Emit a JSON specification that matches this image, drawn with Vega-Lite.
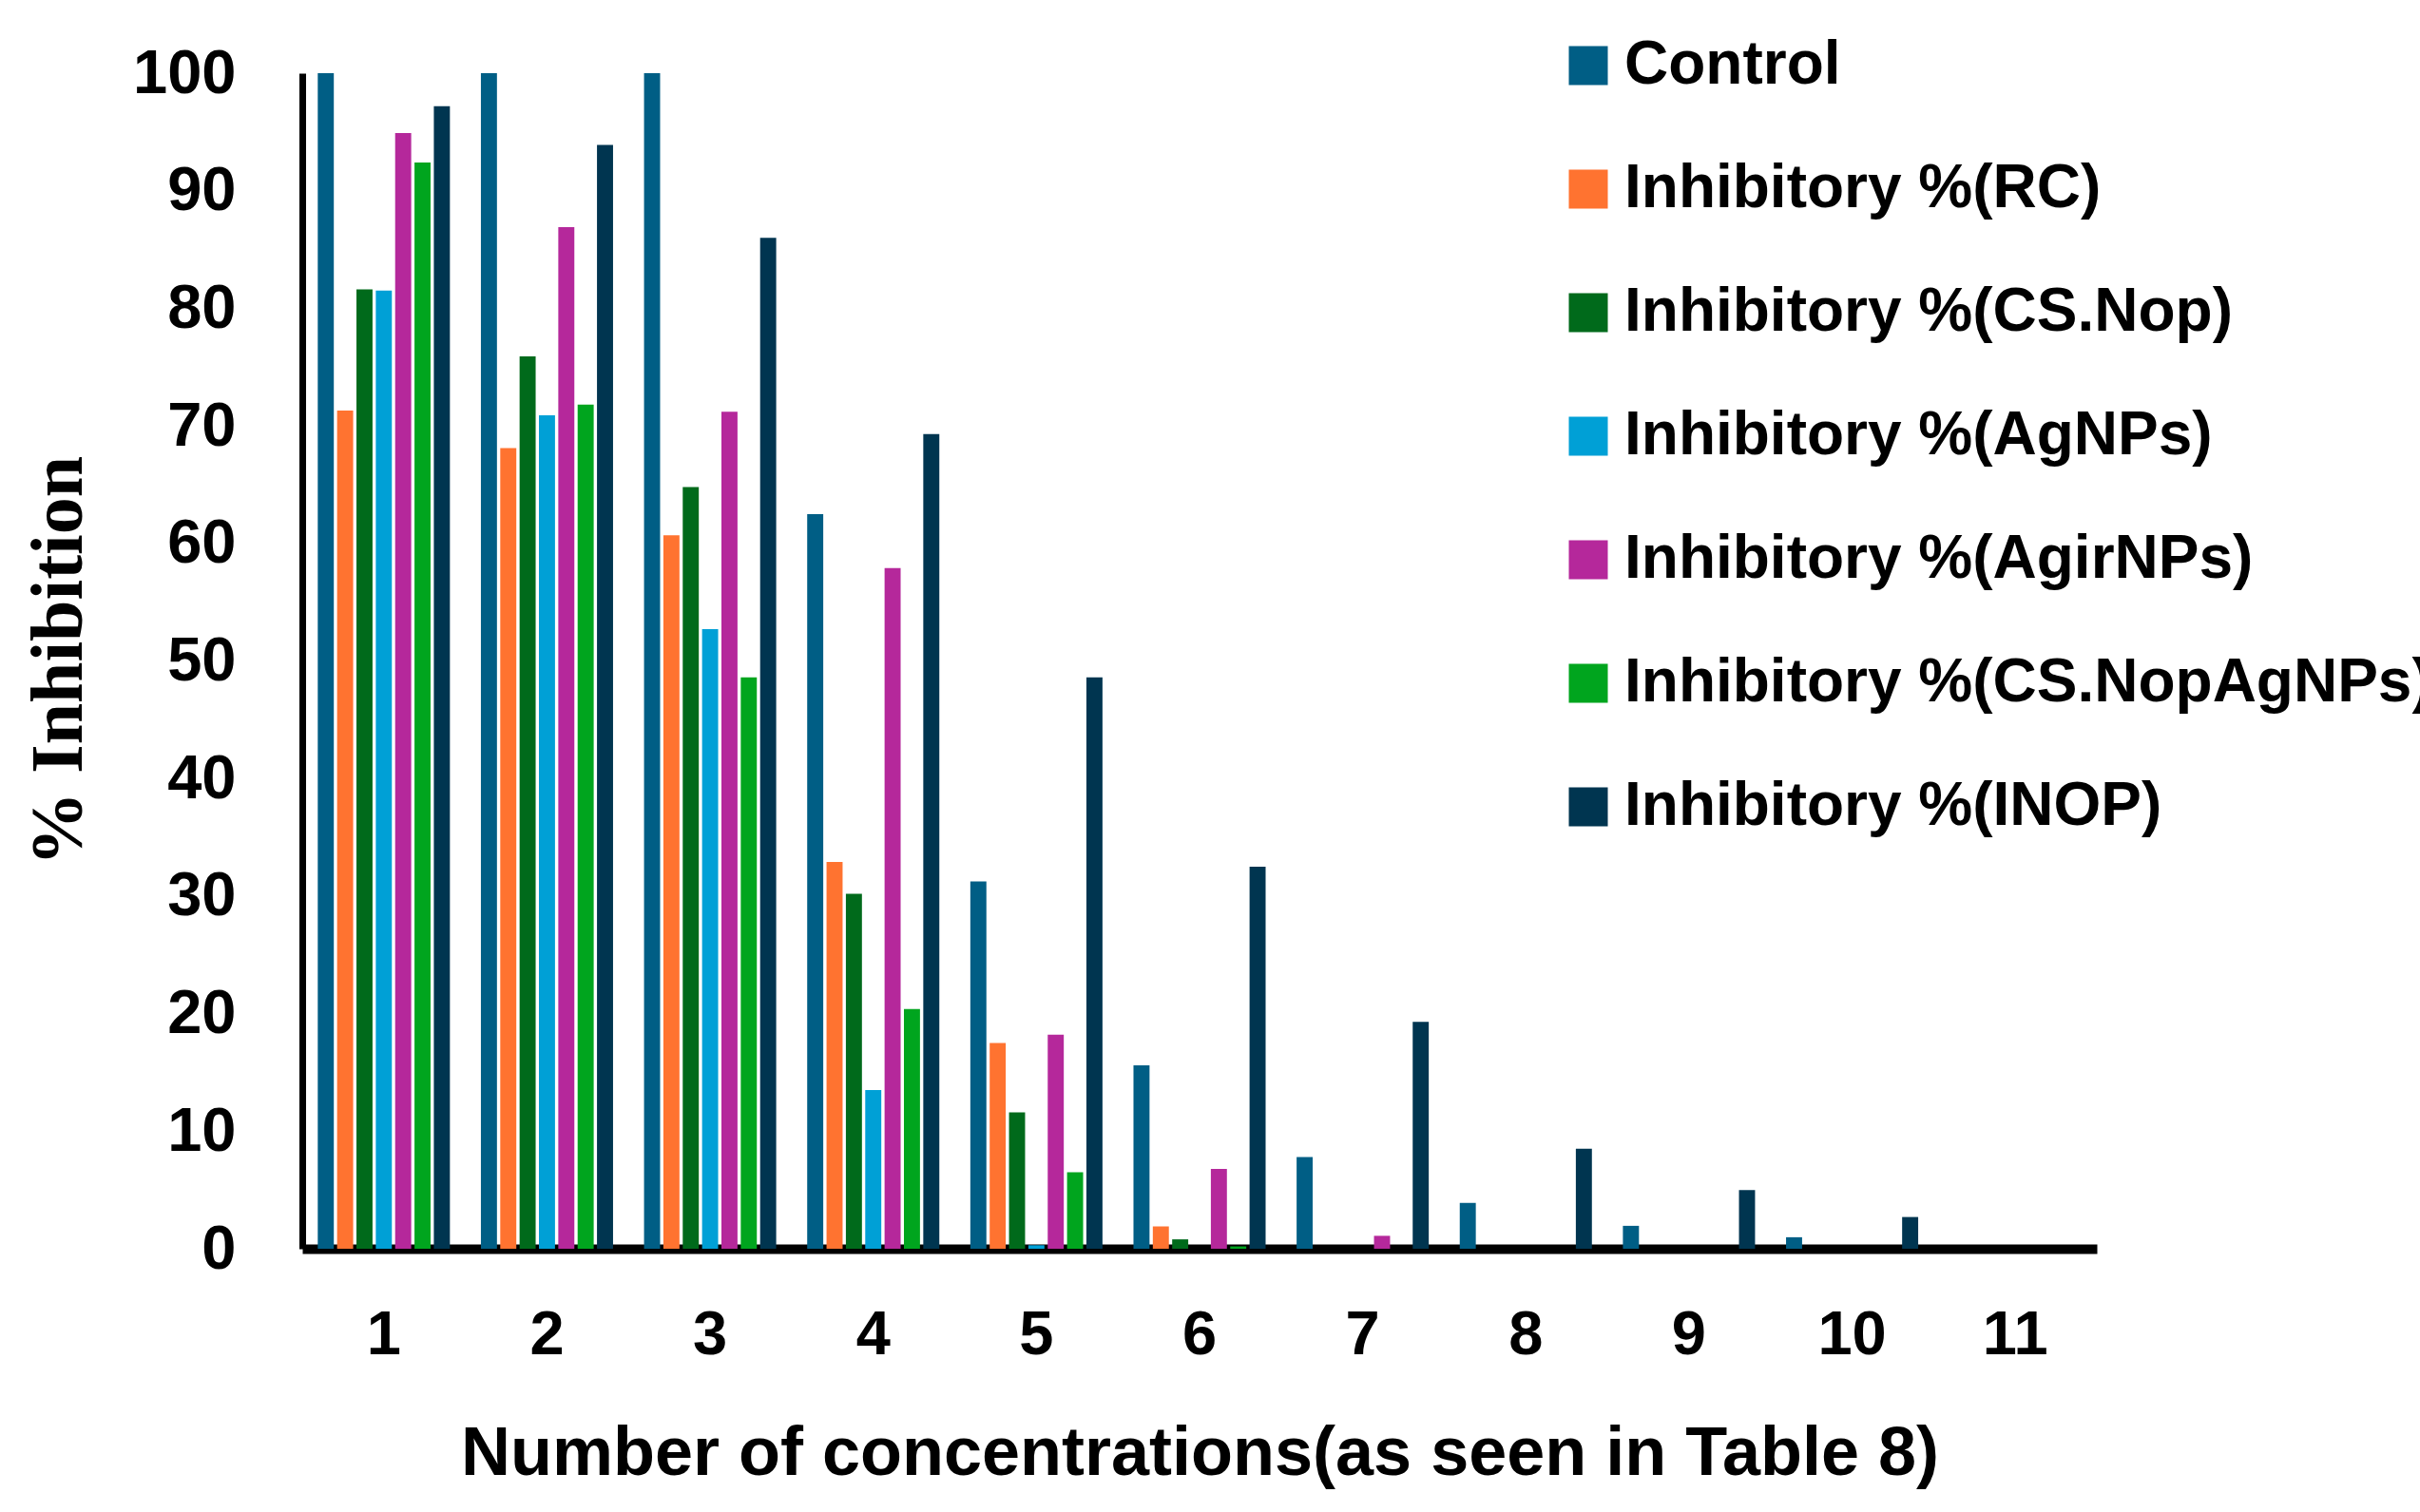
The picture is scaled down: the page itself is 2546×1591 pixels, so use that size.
{
  "$schema": "https://vega.github.io/schema/vega-lite/v6.json",
  "width": 1888,
  "height": 1237,
  "autosize": {"type": "none"},
  "padding": {"left": 318, "top": 77, "right": 340, "bottom": 277},
  "background": "white",
  "data": {"values": [
    {"conc": 1, "series": "Control", "value": 100},
    {"conc": 1, "series": "Inhibitory %(RC)", "value": 71.3},
    {"conc": 1, "series": "Inhibitory %(CS.Nop)", "value": 81.6},
    {"conc": 1, "series": "Inhibitory %(AgNPs)", "value": 81.5},
    {"conc": 1, "series": "Inhibitory %(AgirNPs)", "value": 94.9},
    {"conc": 1, "series": "Inhibitory %(CS.NopAgNPs)", "value": 92.4},
    {"conc": 1, "series": "Inhibitory %(INOP)", "value": 97.2},
    {"conc": 2, "series": "Control", "value": 100},
    {"conc": 2, "series": "Inhibitory %(RC)", "value": 68.1},
    {"conc": 2, "series": "Inhibitory %(CS.Nop)", "value": 75.9},
    {"conc": 2, "series": "Inhibitory %(AgNPs)", "value": 70.9},
    {"conc": 2, "series": "Inhibitory %(AgirNPs)", "value": 86.9},
    {"conc": 2, "series": "Inhibitory %(CS.NopAgNPs)", "value": 71.8},
    {"conc": 2, "series": "Inhibitory %(INOP)", "value": 93.9},
    {"conc": 3, "series": "Control", "value": 100},
    {"conc": 3, "series": "Inhibitory %(RC)", "value": 60.7},
    {"conc": 3, "series": "Inhibitory %(CS.Nop)", "value": 64.8},
    {"conc": 3, "series": "Inhibitory %(AgNPs)", "value": 52.7},
    {"conc": 3, "series": "Inhibitory %(AgirNPs)", "value": 71.2},
    {"conc": 3, "series": "Inhibitory %(CS.NopAgNPs)", "value": 48.6},
    {"conc": 3, "series": "Inhibitory %(INOP)", "value": 86.0},
    {"conc": 4, "series": "Control", "value": 62.5},
    {"conc": 4, "series": "Inhibitory %(RC)", "value": 32.9},
    {"conc": 4, "series": "Inhibitory %(CS.Nop)", "value": 30.2},
    {"conc": 4, "series": "Inhibitory %(AgNPs)", "value": 13.5},
    {"conc": 4, "series": "Inhibitory %(AgirNPs)", "value": 57.9},
    {"conc": 4, "series": "Inhibitory %(CS.NopAgNPs)", "value": 20.4},
    {"conc": 4, "series": "Inhibitory %(INOP)", "value": 69.3},
    {"conc": 5, "series": "Control", "value": 31.25},
    {"conc": 5, "series": "Inhibitory %(RC)", "value": 17.5},
    {"conc": 5, "series": "Inhibitory %(CS.Nop)", "value": 11.6},
    {"conc": 5, "series": "Inhibitory %(AgNPs)", "value": 0.3},
    {"conc": 5, "series": "Inhibitory %(AgirNPs)", "value": 18.2},
    {"conc": 5, "series": "Inhibitory %(CS.NopAgNPs)", "value": 6.5},
    {"conc": 5, "series": "Inhibitory %(INOP)", "value": 48.6},
    {"conc": 6, "series": "Control", "value": 15.6},
    {"conc": 6, "series": "Inhibitory %(RC)", "value": 1.9},
    {"conc": 6, "series": "Inhibitory %(CS.Nop)", "value": 0.8},
    {"conc": 6, "series": "Inhibitory %(AgNPs)", "value": 0},
    {"conc": 6, "series": "Inhibitory %(AgirNPs)", "value": 6.8},
    {"conc": 6, "series": "Inhibitory %(CS.NopAgNPs)", "value": 0.2},
    {"conc": 6, "series": "Inhibitory %(INOP)", "value": 32.5},
    {"conc": 7, "series": "Control", "value": 7.8},
    {"conc": 7, "series": "Inhibitory %(AgirNPs)", "value": 1.1},
    {"conc": 7, "series": "Inhibitory %(INOP)", "value": 19.3},
    {"conc": 8, "series": "Control", "value": 3.9},
    {"conc": 8, "series": "Inhibitory %(INOP)", "value": 8.5},
    {"conc": 9, "series": "Control", "value": 1.95},
    {"conc": 9, "series": "Inhibitory %(INOP)", "value": 5.0},
    {"conc": 10, "series": "Control", "value": 0.98},
    {"conc": 10, "series": "Inhibitory %(INOP)", "value": 2.7}
  ]},
  "mark": {"type": "bar"},
  "encoding": {
    "x": {
      "field": "conc", "type": "ordinal",
      "scale": {"domain": [1,2,3,4,5,6,7,8,9,10,11], "paddingInner": 0.19, "paddingOuter": 0.095},
      "axis": {
        "title": "Number of concentrations(as seen in Table 8)",
        "labelAngle": 0, "ticks": false, "tickSize": 0,
        "labelFont": "Liberation Sans", "labelFontWeight": "bold", "labelFontSize": 65, "labelColor": "black",
        "labelBaseline": "alphabetic", "labelPadding": 110,
        "domainColor": "black", "domainWidth": 10,
        "titleFont": "Liberation Sans", "titleFontWeight": "bold", "titleFontSize": 72, "titleColor": "black",
        "titleBaseline": "alphabetic", "titleY": 237, "titleX": 944, "titleAlign": "center"
      }
    },
    "xOffset": {
      "field": "series", "type": "nominal",
      "scale": {"domain": ["Control", "Inhibitory %(RC)", "Inhibitory %(CS.Nop)", "Inhibitory %(AgNPs)", "Inhibitory %(AgirNPs)", "Inhibitory %(CS.NopAgNPs)", "Inhibitory %(INOP)"], "paddingInner": 0.17, "paddingOuter": 0}
    },
    "y": {
      "field": "value", "type": "quantitative",
      "scale": {"domain": [0, 100], "nice": false},
      "axis": {
        "title": "% Inhibition",
        "values": [0,10,20,30,40,50,60,70,80,90,100],
        "ticks": false, "tickSize": 0, "grid": false,
        "labelFont": "Liberation Sans", "labelFontWeight": "bold", "labelFontSize": 65, "labelColor": "black",
        "labelPadding": 70,
        "domainColor": "black", "domainWidth": 7,
        "titleFont": "Liberation Serif", "titleFontWeight": "bold", "titleFontSize": 78, "titleColor": "black",
        "titleAngle": 270, "titleBaseline": "middle", "titleAlign": "center", "titleX": -256, "titleY": 618
      }
    },
    "color": {
      "field": "series", "type": "nominal",
      "scale": {
        "domain": ["Control", "Inhibitory %(RC)", "Inhibitory %(CS.Nop)", "Inhibitory %(AgNPs)", "Inhibitory %(AgirNPs)", "Inhibitory %(CS.NopAgNPs)", "Inhibitory %(INOP)"],
        "range": ["#005E85", "#FF7330", "#006A1B", "#00A0D6", "#B5289B", "#00A51E", "#003550"]
      },
      "legend": {
        "title": null, "orient": "none", "legendX": 1321, "legendY": -40,
        "padding": 0, "symbolType": "square", "symbolSize": 1681, "symbolStrokeWidth": 0,
        "labelFont": "Liberation Sans", "labelFontWeight": "bold", "labelFontSize": 64, "labelColor": "black",
        "labelOffset": 6, "labelLimit": 2000, "rowPadding": 66
      }
    }
  },
  "config": {"view": {"stroke": null}, "axis": {"grid": false}}
}
